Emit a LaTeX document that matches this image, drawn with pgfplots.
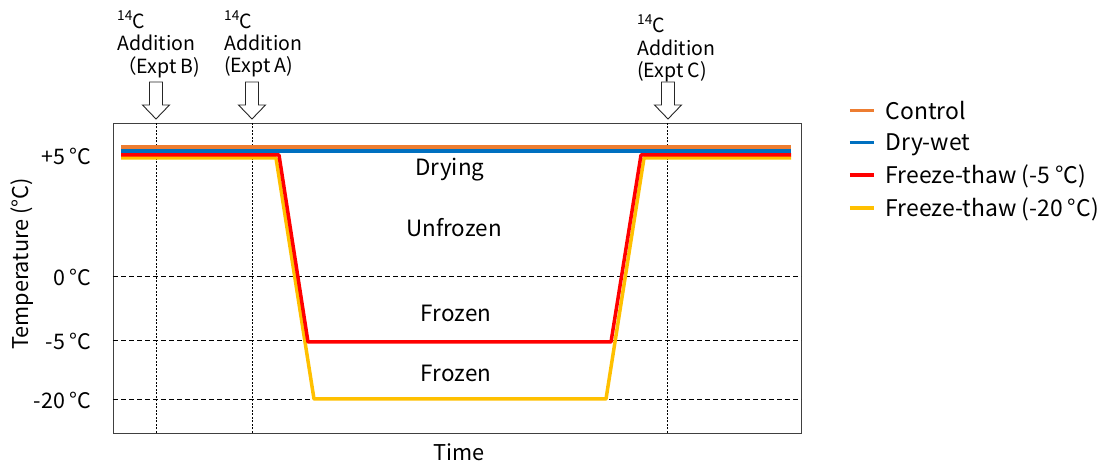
\documentclass[border=0pt]{standalone}
\usepackage{fontspec}
\setmainfont{Noto Sans CJK JP}
\usepackage{pgfplots}
\pgfplotsset{compat=1.18}
\definecolor{cctrl}{HTML}{ED7D31}
\definecolor{cdry}{HTML}{0070C0}
\definecolor{cft5}{HTML}{FF0000}
\definecolor{cft20}{HTML}{FFC000}
\newcommand{\openarrow}[1]{%
  \draw[black!85, line width=0.9bp, fill=white]
    ([xshift=-6.5bp]axis cs:#1,351) -- ([xshift=-6.5bp]axis cs:#1,328) --
    ([xshift=-13.5bp]axis cs:#1,328) -- (axis cs:#1,314) --
    ([xshift=13.5bp]axis cs:#1,328) -- ([xshift=6.5bp]axis cs:#1,328) --
    ([xshift=6.5bp]axis cs:#1,351) -- cycle;}
\begin{document}
\begin{tikzpicture}
\begin{axis}[
  scale only axis, width=688bp, height=310bp,
  xmin=113, xmax=801, ymin=0, ymax=310,
  axis line style={black!75, line width=0.8bp},
  xtick=\empty,
  ytick={277,156,92,33},
  yticklabels={+5 °C, 0 °C, -5 °C, -20 °C},
  major tick length=0,
  yticklabel style={font=\fontsize{21.5}{25}\selectfont, anchor=east, xshift=-18bp},
  xlabel={Time}, ylabel={Temperature (°C)},
  label style={font=\fontsize{21.8}{26}\selectfont},
  xlabel style={at={(axis description cs:0.503,-0.061)}, anchor=center},
  ylabel style={at={(axis description cs:-0.132,0.545)}, anchor=center},
  clip=false,
  legend cell align=left,
  legend style={draw=none, fill=none, at={(1.064,1.085)}, anchor=north west,
    font=\fontsize{23}{27}\selectfont, row sep=9bp},
  legend image code/.code={\draw[#1] (0bp,0bp) -- (24bp,0bp); \path (32bp,0bp);},
]
\addlegendimage{cctrl, line width=3.5bp}
\addlegendentry{Control}
\addlegendimage{cdry, line width=3.5bp}
\addlegendentry{Dry-wet}
\addlegendimage{cft5, line width=3.5bp}
\addlegendentry{Freeze-thaw (-5 °C)}
\addlegendimage{cft20, line width=3.5bp}
\addlegendentry{Freeze-thaw (-20 °C)}

% reference lines
\addplot[forget plot, black, line width=1bp, dash pattern=on 5bp off 3bp] coordinates {(113,156) (801,156)};
\addplot[forget plot, black, line width=1bp, dash pattern=on 5bp off 3bp] coordinates {(113,92) (801,92)};
\addplot[forget plot, black, line width=1bp, dash pattern=on 5bp off 3bp] coordinates {(113,33) (801,33)};
\addplot[forget plot, black, line width=0.9bp, dash pattern=on 2bp off 1.5bp] coordinates {(156,0) (156,310)};
\addplot[forget plot, black, line width=0.9bp, dash pattern=on 2bp off 1.5bp] coordinates {(252,0) (252,310)};
\addplot[forget plot, black, line width=0.9bp, dash pattern=on 2bp off 1.5bp] coordinates {(667,0) (667,310)};

% series
\addplot[forget plot, cctrl, line width=3.5bp] coordinates {(121,286) (791,286)};
\addplot[forget plot, cdry, line width=3.5bp] coordinates {(121,282) (791,282)};
\addplot[forget plot, cft20, line width=3.5bp, line join=round] coordinates {(121,275) (276,275) (314,34) (606,34) (644,275) (791,275)};
\addplot[forget plot, cft5, line width=3.5bp, line join=round] coordinates {(121,278) (279,278) (308,91) (611,91) (641,278) (791,278)};

% region labels
\node[font=\fontsize{22.5}{26}\selectfont] at (axis cs:450,263) {Drying};
\node[font=\fontsize{22.5}{26}\selectfont] at (axis cs:454,205) {Unfrozen};
\node[font=\fontsize{22.5}{26}\selectfont] at (axis cs:456,120) {Frozen};
\node[font=\fontsize{22.5}{26}\selectfont] at (axis cs:456,60) {Frozen};

% arrows and annotations
\openarrow{156}
\openarrow{252}
\openarrow{668}
\begin{scope}[every node/.style={anchor=west, inner sep=0pt, font=\fontsize{19.6}{24}\selectfont}]
\node at (axis cs:117,413) {\textsuperscript{14}C};
\node at (axis cs:117,390) {Addition};
\node at (axis cs:117,366) {（Expt B)};
\node at (axis cs:224,413) {\textsuperscript{14}C};
\node at (axis cs:224,390) {Addition};
\node at (axis cs:224,366) {(Expt A)};
\node at (axis cs:637,409) {\textsuperscript{14}C};
\node at (axis cs:637,385) {Addition};
\node at (axis cs:637,361) {(Expt C)};
\end{scope}

\coordinate (BBsw) at (axis cs:0,-30);
\coordinate (BBne) at (axis cs:1108,433);
\end{axis}
\pgfresetboundingbox
\useasboundingbox (BBsw) rectangle (BBne);
\end{tikzpicture}
\end{document}
